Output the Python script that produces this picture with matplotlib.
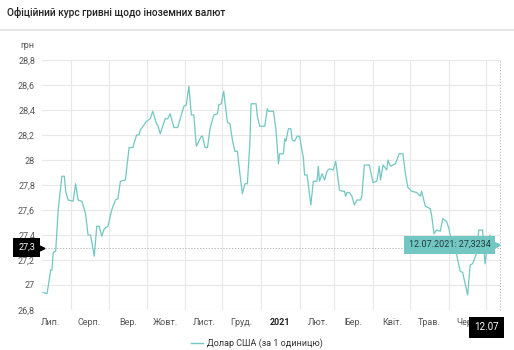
import matplotlib
matplotlib.use("Agg")
import matplotlib.pyplot as plt
import matplotlib.transforms as mtransforms
from matplotlib.lines import Line2D
import pandas as pd

plt.rcParams['font.family'] = ['Roboto', 'DejaVu Sans']

# USD/UAH official rate, 2020-07 .. 2021-07
dates = [
    "2020-07-10", "2020-07-13", "2020-07-14", "2020-07-16", "2020-07-17", "2020-07-18",
    "2020-07-20", "2020-07-21", "2020-07-22", "2020-07-25", "2020-07-27", "2020-07-28",
    "2020-07-30", "2020-08-03", "2020-08-05", "2020-08-07", "2020-08-10", "2020-08-13",
    "2020-08-15", "2020-08-17", "2020-08-20", "2020-08-22", "2020-08-24", "2020-08-26",
    "2020-08-28", "2020-08-31", "2020-09-03", "2020-09-06", "2020-09-08", "2020-09-10",
    "2020-09-14", "2020-09-17", "2020-09-20", "2020-09-23", "2020-09-25", "2020-09-26",
    "2020-10-01", "2020-10-04", "2020-10-06", "2020-10-09", "2020-10-10", "2020-10-12",
    "2020-10-16", "2020-10-18", "2020-10-20", "2020-10-23", "2020-10-26", "2020-10-31",
    "2020-11-02", "2020-11-04", "2020-11-06", "2020-11-08", "2020-11-10", "2020-11-14",
    "2020-11-15", "2020-11-17", "2020-11-19", "2020-11-21", "2020-11-24", "2020-11-27",
    "2020-11-28", "2020-11-30", "2020-12-02", "2020-12-05", "2020-12-07", "2020-12-09",
    "2020-12-11", "2020-12-13", "2020-12-15", "2020-12-17", "2020-12-19", "2020-12-21",
    "2020-12-23", "2020-12-24", "2020-12-28", "2020-12-29", "2020-12-31", "2021-01-04",
    "2021-01-06", "2021-01-07", "2021-01-11", "2021-01-13", "2021-01-15", "2021-01-16",
    "2021-01-19", "2021-01-20", "2021-01-21", "2021-01-23", "2021-01-25", "2021-01-26",
    "2021-01-28", "2021-01-30", "2021-02-01", "2021-02-03", "2021-02-04", "2021-02-05",
    "2021-02-07", "2021-02-10", "2021-02-12", "2021-02-15", "2021-02-16", "2021-02-17",
    "2021-02-19", "2021-02-21", "2021-02-23", "2021-02-25", "2021-02-28", "2021-03-02",
    "2021-03-05", "2021-03-07", "2021-03-09", "2021-03-10", "2021-03-11", "2021-03-13",
    "2021-03-15", "2021-03-17", "2021-03-19", "2021-03-22", "2021-03-23", "2021-03-25",
    "2021-03-29", "2021-04-01", "2021-04-04", "2021-04-06", "2021-04-07", "2021-04-09",
    "2021-04-12", "2021-04-13", "2021-04-15", "2021-04-19", "2021-04-22", "2021-04-25",
    "2021-04-27", "2021-04-29", "2021-05-02", "2021-05-06", "2021-05-09", "2021-05-10",
    "2021-05-13", "2021-05-17", "2021-05-18", "2021-05-20", "2021-05-22", "2021-05-25",
    "2021-05-27", "2021-05-30", "2021-06-01", "2021-06-02", "2021-06-07", "2021-06-10",
    "2021-06-12", "2021-06-16", "2021-06-18", "2021-06-20", "2021-06-23", "2021-06-25",
    "2021-06-28", "2021-06-30", "2021-07-01", "2021-07-04", "2021-07-05", "2021-07-12",
]
usd = [
    26.94, 26.93, 26.99, 27.12, 27.12, 27.26,
    27.27, 27.44, 27.60, 27.87, 27.87, 27.75,
    27.68, 27.67, 27.81, 27.68, 27.67, 27.57,
    27.40, 27.40, 27.23, 27.47, 27.47, 27.39,
    27.45, 27.47, 27.60, 27.68, 27.69, 27.83,
    27.84, 28.10, 28.10, 28.20, 28.20, 28.24,
    28.31, 28.33, 28.39, 28.29, 28.28, 28.21,
    28.33, 28.33, 28.37, 28.26, 28.26, 28.43,
    28.44, 28.59, 28.36, 28.36, 28.11, 28.19,
    28.19, 28.10, 28.10, 28.25, 28.36, 28.37,
    28.44, 28.45, 28.55, 28.30, 28.29, 28.16,
    28.07, 28.07, 27.89, 27.73, 27.81, 27.81,
    28.13, 28.45, 28.45, 28.35, 28.27, 28.27,
    28.41, 28.39, 28.39, 28.24, 27.97, 28.05,
    28.05, 28.17, 28.15, 28.25, 28.25, 28.16,
    28.15, 28.19, 28.19, 28.07, 28.02, 27.88,
    27.88, 27.64, 27.83, 27.83, 27.95, 27.83,
    27.89, 27.84, 27.91, 27.93, 27.92, 27.99,
    27.76, 27.75, 27.75, 27.71, 27.74, 27.74,
    27.71, 27.64, 27.68, 27.68, 27.71, 27.96,
    27.96, 27.82, 27.83, 27.95, 27.84, 27.96,
    27.92, 28.00, 27.95, 27.97, 28.05, 28.05,
    27.89, 27.78, 27.75, 27.74, 27.71, 27.75,
    27.63, 27.61, 27.56, 27.41, 27.44, 27.43,
    27.53, 27.51, 27.45, 27.40, 27.25, 27.11,
    27.10, 26.92, 27.16, 27.17, 27.25, 27.44,
    27.44, 27.17, 27.25, 27.40, 27.35, 27.3234,
]

month_labels = ["Лип.", "Серп.", "Вер.", "Жовт.", "Лист.", "Груд.",
                "2021", "Лют.", "Бер.", "Квіт.", "Трав.", "Черв."]
y_ticks = [26.8, 27.0, 27.2, 27.4, 27.6, 27.8, 28.0, 28.2, 28.4, 28.6, 28.8]
marker_value = 27.3

line_color = "#72c7c3"
grid_color = "#e8e8e8"
label_color = "#555555"

x = pd.to_datetime(dates)

fig = plt.figure(figsize=(5.14, 3.5), dpi=100)
ax = fig.add_axes([42 / 514, 40 / 350, 458 / 514, 250 / 350])

ax.plot(x, usd, color=line_color, lw=0.9, zorder=3)

ax.set_xlim(pd.Timestamp("2020-07-09"), x[-1])
ax.set_ylim(26.8, 28.8)

# gridlines on month starts, labels in the middle of each month
month_starts = pd.date_range("2020-08-01", "2021-07-01", freq="MS")
mid_months = pd.date_range("2020-07-01", "2021-06-01", freq="MS") + pd.Timedelta(days=15)
ax.set_xticks(month_starts)
ax.set_xticklabels([])
ax.set_xticks(mid_months, minor=True)
ax.set_xticklabels(month_labels, minor=True)
ax.tick_params(axis="x", which="both", length=0)
ax.tick_params(axis="x", which="minor", pad=6, labelsize=6.5, labelcolor=label_color)
for lbl in ax.get_xticklabels(minor=True):
    if lbl.get_text() == "2021":
        lbl.set_fontweight("bold")
        lbl.set_color("#222222")

ax.set_yticks(y_ticks)
ax.set_yticklabels([f"{v:g}".replace(".", ",") for v in y_ticks])
ax.tick_params(axis="y", length=0, pad=5, labelsize=6.5, labelcolor=label_color)

ax.grid(True, which="major", color=grid_color, lw=0.8)
for s in ax.spines.values():
    s.set_visible(False)

# crosshair at the last point
ax.axhline(marker_value, color="#aaaaaa", lw=0.6, ls=(0, (1.5, 2)), zorder=2)
ax.axvline(x[-1], color="#aaaaaa", lw=0.6, ls=(0, (1.5, 2)), clip_on=False, zorder=2)

# tooltip for the last value
tip_text = f"{x[-1]:%d.%m.%Y}: " + f"{usd[-1]:.4f}".replace(".", ",")
ax.annotate(tip_text, xy=(x[-1], usd[-1]), xytext=(-7, 0), textcoords="offset points",
            ha="right", va="center", fontsize=6.5, color="#1f3b3a",
            bbox=dict(boxstyle="square,pad=0.5", fc=line_color, ec="none"), zorder=6)
tip_arrow = mtransforms.offset_copy(ax.transData, fig=fig, x=-2.5, y=0, units="dots")
ax.plot([x[-1]], [usd[-1]], marker=">", ms=3.5, color=line_color, zorder=6,
        clip_on=False, transform=tip_arrow)

# axis value tags
ax.annotate(f"{marker_value:g}".replace(".", ","), xy=(0, marker_value),
            xycoords=("axes fraction", "data"), xytext=(-5, 0), textcoords="offset points",
            ha="right", va="center", fontsize=6.5, color="white",
            bbox=dict(boxstyle="square,pad=0.6", fc="black", ec="none"), zorder=6,
            annotation_clip=False)
ax.plot([0], [marker_value], marker=">", ms=3.5, color="black",
        transform=ax.get_yaxis_transform(), clip_on=False, zorder=6)

ax.annotate(f"{x[-1]:%d.%m}", xy=(x[-1], 0), xycoords=("data", "axes fraction"),
            xytext=(-1, -12.5), textcoords="offset points",
            ha="right", va="center", fontsize=7, color="white",
            bbox=dict(boxstyle="square,pad=0.55", fc="black", ec="none"), zorder=6,
            annotation_clip=False)

fig.text(20 / 514, 1 - 46 / 350, "грн", fontsize=6.5, color=label_color, va="center")
fig.text(7 / 514, 1 - 13 / 350, "Офіційний курс гривні щодо іноземних валют",
         fontsize=7.3, fontweight="medium", color="#222222", va="center")
fig.add_artist(Line2D([0, 1], [1 - 30 / 350] * 2, color="#e6e6e6", lw=1.5))

handle = Line2D([], [], color=line_color, lw=1.0)
fig.legend([handle], ["Долар США (за 1 одиницю)"], loc="center",
           bbox_to_anchor=(0.5, 1 - 343 / 350), frameon=False, fontsize=6.5,
           handlelength=1.3, handletextpad=0.5, labelcolor="#333333")

fig.savefig("out.png", dpi=100)
